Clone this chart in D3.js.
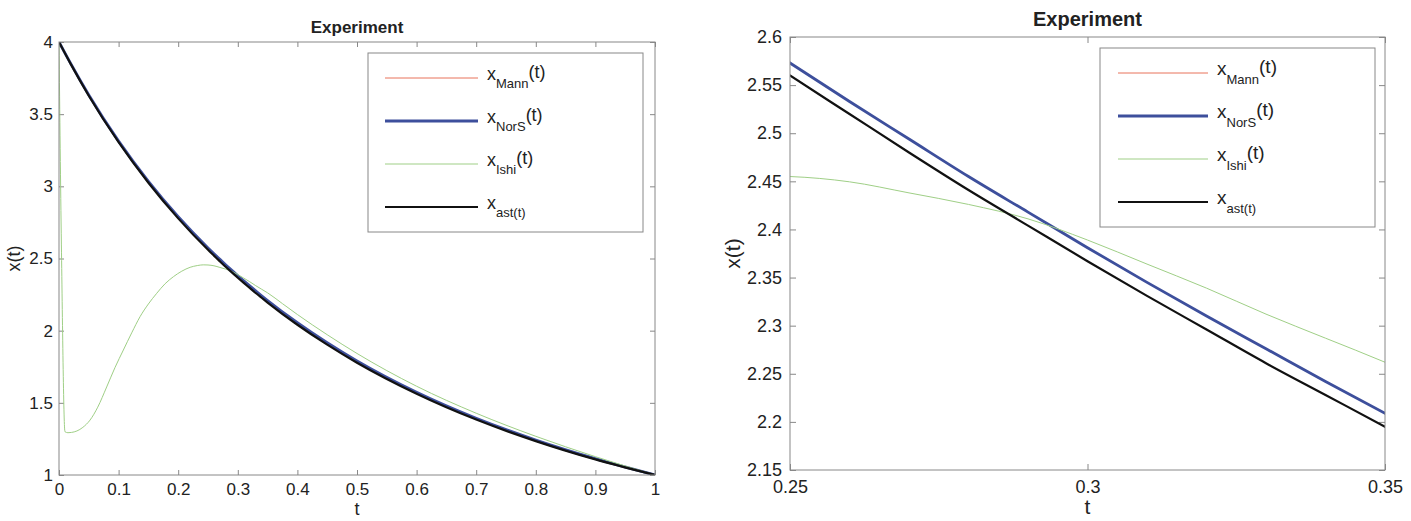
<!DOCTYPE html>
<html>
<head>
<meta charset="utf-8">
<script src="https://cdn.jsdelivr.net/npm/d3@7"></script>
<style>
body { margin: 0; background: #fff; }
text { font-family: "Liberation Sans", Arial, Helvetica, sans-serif; fill: #222; }
</style>
</head>
<body>
<svg class="chart"></svg>
<script>
// values
var tMain = [0, 0.02, 0.05, 0.1, 0.15, 0.2, 0.25, 0.26, 0.27, 0.28, 0.29, 0.3, 0.31, 0.32, 0.33, 0.34, 0.35,
             0.4, 0.45, 0.5, 0.6, 0.7, 0.8, 0.9, 1];
var xAst  = [4, 3.845, 3.628, 3.306, 3.025, 2.778, 2.560, 2.520, 2.480, 2.441, 2.404, 2.367, 2.331, 2.296, 2.261, 2.228, 2.195,
             2.041, 1.903, 1.778, 1.563, 1.384, 1.235, 1.108, 1];
var xNorS = [4, 3.848, 3.633, 3.313, 3.034, 2.789, 2.573, 2.533, 2.494, 2.455, 2.418, 2.381, 2.345, 2.310, 2.276, 2.242, 2.209,
             2.055, 1.916, 1.790, 1.573, 1.393, 1.242, 1.113, 1];
var xMann = [4, 3.848, 3.633, 3.313, 3.034, 2.789, 2.573, 2.533, 2.494, 2.455, 2.418, 2.381, 2.345, 2.310, 2.276, 2.242, 2.209,
             2.055, 1.916, 1.790, 1.573, 1.393, 1.242, 1.113, 1];

var tIshi = [0, 0.004, 0.01, 0.015, 0.021, 0.03, 0.04, 0.052, 0.065, 0.08, 0.094, 0.108, 0.122, 0.136, 0.15, 0.164,
             0.178, 0.192, 0.206, 0.22, 0.232, 0.242, 0.25, 0.26, 0.27, 0.28, 0.29, 0.3, 0.31, 0.32, 0.33, 0.34,
             0.35, 0.375, 0.4, 0.45, 0.5, 0.6, 0.7, 0.8, 0.9, 1];
var xIshi = [4, 2.6, 1.30, 1.293, 1.295, 1.305, 1.33, 1.38, 1.47, 1.61, 1.745, 1.866, 1.985, 2.097, 2.185, 2.259,
             2.325, 2.374, 2.412, 2.439, 2.451, 2.456, 2.455, 2.4495, 2.438, 2.426, 2.411, 2.389, 2.364, 2.339, 2.312, 2.287,
             2.262, 2.187, 2.112, 1.972, 1.842, 1.615, 1.428, 1.268, 1.127, 1];

var seriesNames = ['Mann', 'NorS', 'Ishi', 'ast(t)'];

var ticksX1 = [0, 0.1, 0.2, 0.3, 0.4, 0.5, 0.6, 0.7, 0.8, 0.9, 1];
var ticksY1 = [1, 1.5, 2, 2.5, 3, 3.5, 4];
var ticksX2 = [0.25, 0.3, 0.35];
var ticksY2 = [2.15, 2.2, 2.25, 2.3, 2.35, 2.4, 2.45, 2.5, 2.55, 2.6];

var width = 1411, height = 521;
var svg = d3.select('.chart').attr('width', width).attr('height', height);

var styles = [
    {color: '#e8735a', w: 1},
    {color: '#3d4f9c', w: 2.8},
    {color: '#9fcf86', w: 1},
    {color: '#111', w: 2.2}
];

function panel(p) {
    var x = d3.scaleLinear().domain(p.xDom).range([p.left, p.right]);
    var y = d3.scaleLinear().domain(p.yDom).range([p.bottom, p.top]);
    var g = svg.append('g');
    var fmt = d3.format('~g');

    g.append('clipPath').attr('id', p.id)
     .append('rect').attr('x', p.left).attr('y', p.top)
     .attr('width', p.right - p.left).attr('height', p.bottom - p.top);

    var ax = [
        [d3.axisBottom(x).tickValues(p.xt).tickFormat(fmt).tickPadding(p.xpad), 'translate(0,' + p.bottom + ')'],
        [d3.axisTop(x).tickValues(p.xt).tickFormat(''), 'translate(0,' + p.top + ')'],
        [d3.axisLeft(y).tickValues(p.yt).tickFormat(fmt).tickPadding(p.ypad), 'translate(' + p.left + ',0)'],
        [d3.axisRight(y).tickValues(p.yt).tickFormat(''), 'translate(' + p.right + ',0)']
    ];
    ax.forEach(function(a) {
        var s = g.append('g').attr('transform', a[1])
            .call(a[0].tickSizeInner(-p.tick).tickSizeOuter(0));
        s.select('.domain').remove();
        s.selectAll('line').attr('stroke', '#888');
        s.selectAll('text').style('font-size', p.tickFs + 'px').attr('fill', '#222');
    });

    var line = d3.line().x(function(d) { return x(d[0]); }).y(function(d) { return y(d[1]); })
        .curve(d3.curveMonotoneX);
    var data = [d3.zip(tMain, xMann), d3.zip(tMain, xNorS), d3.zip(tIshi, xIshi), d3.zip(tMain, xAst)];
    g.append('g').attr('clip-path', 'url(#' + p.id + ')')
     .selectAll('path').data(data).enter().append('path')
     .attr('d', line).attr('fill', 'none')
     .attr('stroke', function(d, i) { return styles[i].color; })
     .attr('stroke-width', function(d, i) { return styles[i].w; });

    g.append('rect').attr('x', p.left).attr('y', p.top)
     .attr('width', p.right - p.left).attr('height', p.bottom - p.top)
     .attr('fill', 'none').attr('stroke', '#888').attr('stroke-width', 1);

    g.append('text').attr('x', (p.left + p.right) / 2).attr('y', p.titleY)
     .attr('text-anchor', 'middle').style('font-size', p.titleFs + 'px').style('font-weight', 'bold')
     .attr('fill', '#000').text('Experiment');
    g.append('text').attr('x', (p.left + p.right) / 2).attr('y', p.xlabY)
     .attr('text-anchor', 'middle').style('font-size', p.labFs + 'px').text('t');
    g.append('text').attr('transform', 'translate(' + p.ylabX + ',' + (p.top + p.bottom) / 2 + ') rotate(-90)')
     .attr('text-anchor', 'middle').style('font-size', p.labFs + 'px').text('x(t)');

    // legend
    var L = p.leg;
    g.append('rect').attr('x', L.x0).attr('y', L.y0).attr('width', L.x1 - L.x0).attr('height', L.y1 - L.y0)
     .attr('fill', '#fff').attr('stroke', '#888');
    seriesNames.forEach(function(name, i) {
        var ry = L.rows[i];
        g.append('line').attr('x1', L.lx[0]).attr('x2', L.lx[1]).attr('y1', ry).attr('y2', ry)
         .attr('stroke', styles[i].color).attr('stroke-width', styles[i].w);
        var t = g.append('text').attr('x', L.tx).attr('y', ry + 2).style('font-size', L.fs + 'px');
        t.append('tspan').text('x');
        t.append('tspan').attr('dy', L.sub).style('font-size', L.subFs + 'px').text(name);
        if (i < 3) t.append('tspan').attr('dy', -L.sub - 2).text('(t)');
    });
}

panel({id: 'c1', left: 59, right: 655, top: 42, bottom: 475,
       xDom: [0, 1], yDom: [1, 4], xt: ticksX1, yt: ticksY1,
       tick: 5, tickFs: 17, xpad: 8, ypad: 6,
       titleY: 33, titleFs: 17, xlabY: 515, ylabX: 20, labFs: 18,
       leg: {x0: 368, x1: 643, y0: 53, y1: 232, rows: [78, 121, 164, 207], lx: [385, 478], tx: 487,
             fs: 18, subFs: 13, sub: 8}});

panel({id: 'c2', left: 790, right: 1385, top: 37, bottom: 470,
       xDom: [0.25, 0.35], yDom: [2.15, 2.6], xt: ticksX2, yt: ticksY2,
       tick: 6, tickFs: 18, xpad: 10, ypad: 8,
       titleY: 26, titleFs: 20, xlabY: 514, ylabX: 740, labFs: 21,
       leg: {x0: 1100, x1: 1375, y0: 48, y1: 227, rows: [73, 116, 159, 202], lx: [1118, 1208], tx: 1217,
             fs: 19, subFs: 13, sub: 9}});
</script>
</body>
</html>
